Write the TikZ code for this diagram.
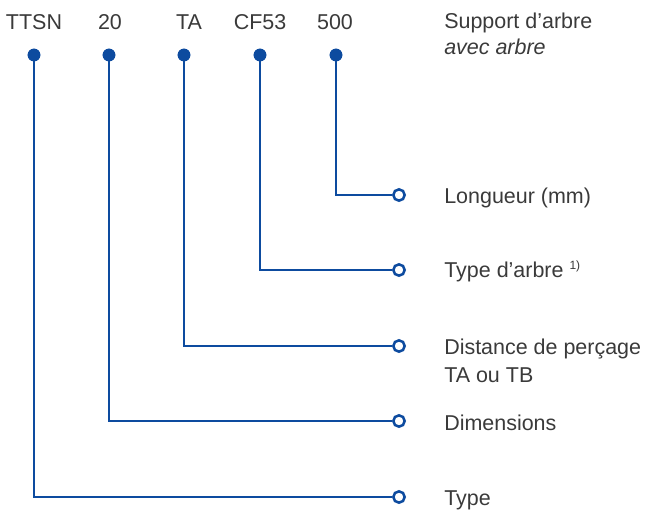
\documentclass[tikz,border=0pt]{standalone}
\usepackage{fontspec}
\setmainfont{Liberation Sans}
\definecolor{lineblue}{HTML}{0D4B9F}
\definecolor{txtgray}{HTML}{3A3A3A}
\begin{document}
\begin{tikzpicture}[x=0.75pt,y=-0.75pt,
  every node/.style={text=txtgray,font=\fontsize{16.1}{19}\selectfont},
  codelabel/.style={anchor=mid,inner sep=0pt},
  dotnode/.style={circle,fill=lineblue,draw=none,minimum size=9.5pt,inner sep=0pt},
  endnode/.style={circle,draw=lineblue,fill=white,line width=1.9pt,minimum size=8.5pt,inner sep=0pt},
  desc/.style={anchor=mid west,inner sep=0pt,align=left},
  conn/.style={draw=lineblue,line width=1.8pt}]
\useasboundingbox (0,0) rectangle (650,511);
% code labels
\node[codelabel] (tTTSN) at (34,26) {TTSN};
\node[codelabel] (t20) at (110,26) {20};
\node[codelabel] (tTA) at (189,26) {TA};
\node[codelabel] (tCF) at (260,26) {CF53};
\node[codelabel] (t500) at (335,26) {500};
\node[desc] (title) at (444,25) {Support d’arbre};
\node[desc] (subtitle) at (444,51) {\itshape avec arbre};
% dots
\node[dotnode] (d1) at (34,55) {};
\node[dotnode] (d2) at (109,55) {};
\node[dotnode] (d3) at (184,55) {};
\node[dotnode] (d4) at (260,55) {};
\node[dotnode] (d5) at (336,55) {};
% end circles
\node[endnode] (e5) at (399,195) {};
\node[endnode] (e4) at (399,270) {};
\node[endnode] (e3) at (399,346) {};
\node[endnode] (e2) at (399,421) {};
\node[endnode] (e1) at (399,497) {};
% connectors
\draw[conn] (d5.center) |- (e5.west);
\draw[conn] (d4.center) |- (e4.west);
\draw[conn] (d3.center) |- (e3.west);
\draw[conn] (d2.center) |- (e2.west);
\draw[conn] (d1.center) |- (e1.west);
\node[dotnode] at (d1) {};
\node[dotnode] at (d2) {};
\node[dotnode] at (d3) {};
\node[dotnode] at (d4) {};
\node[dotnode] at (d5) {};
% descriptions
\node[desc] (l5) at (444,200) {Longueur (mm)};
\node[desc] (l4) at (444,274) {Type d’arbre \textsuperscript{\fontsize{9}{10}\selectfont 1)}};
\node[desc] (l3a) at (444,351) {Distance de perçage};
\node[desc] (l3b) at (444,379) {TA ou TB};
\node[desc] (l2) at (444,427) {Dimensions};
\node[desc] (l1) at (444,502) {Type};
\end{tikzpicture}
\end{document}
